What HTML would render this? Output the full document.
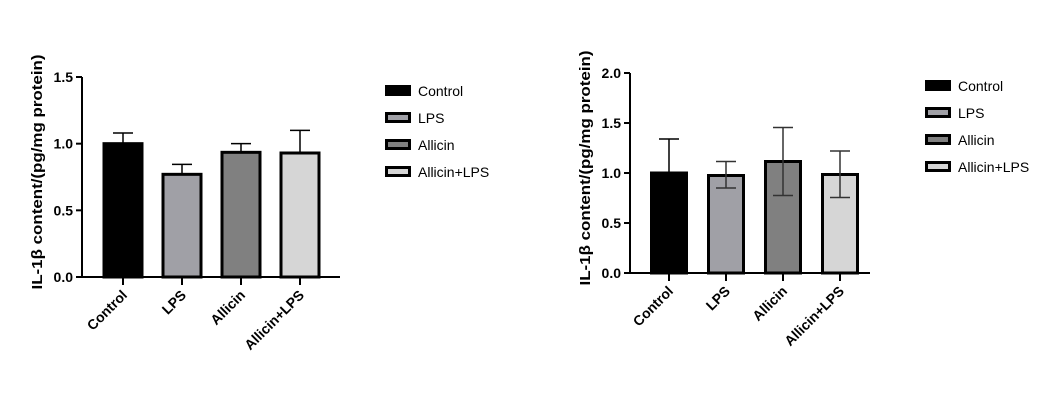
<!DOCTYPE html>
<html><head><meta charset="utf-8"><style>
body{margin:0;background:#fff;}
svg{display:block;font-family:"Liberation Sans",Arial,sans-serif;}
</style></head><body>
<svg id="s" width="1056" height="404" viewBox="0 0 1056 404"></svg>
<script>
const categories=["Control","LPS","Allicin","Allicin+LPS"];
const fills=["#000000","#a0a0a6","#808080","#d6d6d6"];
const meansA=[1.0,0.77,0.935,0.93];
const errUpA=[1.08,0.845,1.0,1.1];
const errLoA=[null,null,null,null];
const ticksA=[0,0.5,1.0,1.5];
const meansB=[1.0,0.975,1.115,0.985];
const errUpB=[1.34,1.115,1.455,1.22];
const errLoB=[null,0.85,0.775,0.755];
const ticksB=[0,0.5,1.0,1.5,2.0];
const NS="http://www.w3.org/2000/svg";
const svg=document.getElementById('s');
function mk(t,a,p){const e=document.createElementNS(NS,t);for(const k in a)e.setAttribute(k,a[k]);(p||svg).appendChild(e);return e;}
function chart(cfg){
  const g=mk('g',{});
  
  
  const y=v=>cfg.y0-(v/cfg.ymax)*(cfg.y0-cfg.yTop);
  const cx=i=>cfg.c0+i*cfg.step;
  categories.forEach((c,i)=>{
    const top=y(cfg.means[i]);
    const b=mk('rect',{x:cx(i)-cfg.bw/2,y:top,width:cfg.bw,height:cfg.y0-top,fill:fills[i],stroke:'#000','stroke-width':3},g);
    
    
    const up=y(cfg.up[i]);
    const lo=cfg.lo[i]==null?top:y(cfg.lo[i]);
    const col=cfg.lo[i]==null?'#000':'#333';
    const eb=mk('path',{d:`M${cx(i)} ${lo}V${up}M${cx(i)-10} ${up}H${cx(i)+10}`+(cfg.lo[i]==null?'':`M${cx(i)-10} ${lo}H${cx(i)+10}`),stroke:col,'stroke-width':1.5,fill:'none'},g);
    
    
    mk('line',{x1:cx(i),x2:cx(i),y1:cfg.y0,y2:cfg.y0+8,stroke:'#000','stroke-width':2},g);
    const t=mk('text',{x:0,y:0,'font-size':14,'font-weight':'bold','text-anchor':'end',transform:`translate(${cx(i)+5},${cfg.y0+19}) rotate(-45)`},g);
    t.textContent=c;
    
    
  });
  const ax=mk('path',{d:`M${cfg.ax} ${cfg.yTop}V${cfg.y0}H${cfg.xEnd}`,stroke:'#000','stroke-width':2,fill:'none'},g);
  
  
  cfg.ticks.forEach(v=>{
    mk('line',{x1:cfg.ax-6,x2:cfg.ax,y1:y(v),y2:y(v),stroke:'#000','stroke-width':2},g);
    const t=mk('text',{x:cfg.ax-9,y:y(v)+5,'font-size':14,'font-weight':'bold','text-anchor':'end'},g);
    t.textContent=v.toFixed(1);
    
    
  });
  const yt=mk('text',{x:0,y:0,'font-size':15,'font-weight':'bold','text-anchor':'middle',textLength:235,lengthAdjust:'spacingAndGlyphs',transform:`translate(${cfg.ax-40},${(cfg.yTop+cfg.y0)/2-5}) rotate(-90)`},g);
  yt.textContent='IL-1β content/(pg/mg protein)';
  
  
  categories.forEach((c,i)=>{
    const ly=cfg.ly+i*27;
    const sw=mk('rect',{x:cfg.lx+1.5,y:ly-4.5,width:23,height:8,fill:fills[i],stroke:'#000','stroke-width':3},g);
    
    
    const t=mk('text',{x:cfg.lx+33,y:ly+5,'font-size':14},g);
    t.textContent=c;
    
    
  });
}
chart({name:'chart-left',means:meansA,up:errUpA,lo:errLoA,ticks:ticksA,ymax:1.5,y0:277,yTop:77,ax:82,xEnd:340,c0:123,step:59,bw:38,lx:385,ly:91});
chart({name:'chart-right',means:meansB,up:errUpB,lo:errLoB,ticks:ticksB,ymax:2.0,y0:273,yTop:73,ax:630,xEnd:870,c0:669,step:57,bw:35,lx:925,ly:86});
</script>
</body></html>
